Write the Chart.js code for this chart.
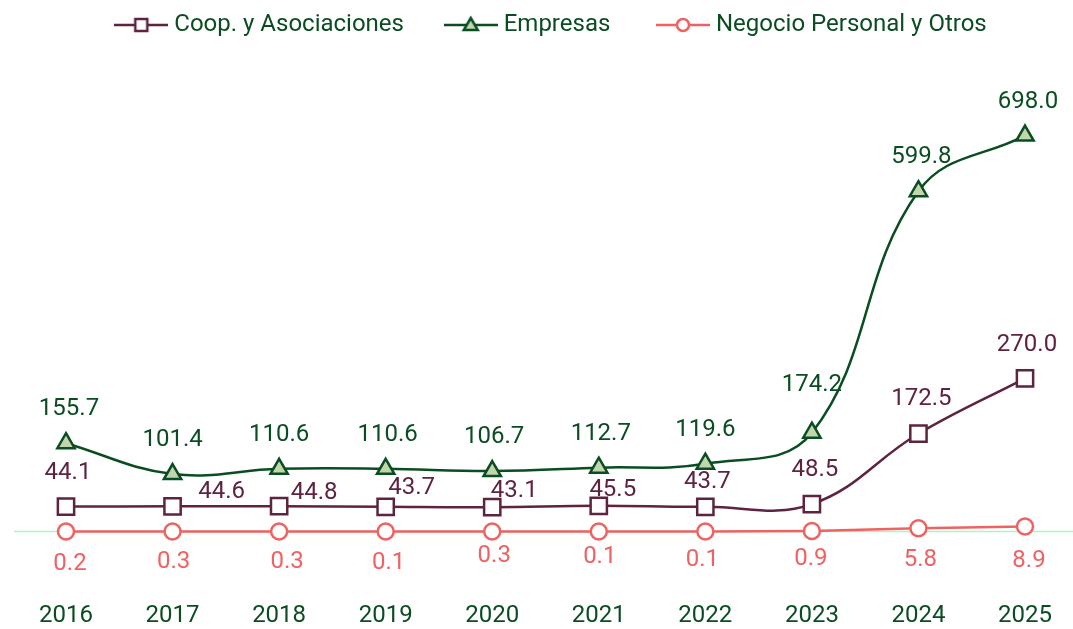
<!DOCTYPE html>
<html>
<head>
<meta charset="utf-8">
<script src="https://cdn.jsdelivr.net/npm/chart.js@4.4.1/dist/chart.umd.min.js"></script>
<style>
  html, body { margin: 0; padding: 0; background: #fff; }
  #wrap { width: 1073px; height: 629px; }
</style>
</head>
<body>
<div id="wrap"><canvas id="chart" width="1073" height="629"></canvas></div>
<script>
const years = ['2016', '2017', '2018', '2019', '2020', '2021', '2022', '2023', '2024', '2025'];
const coopValues = [44.1, 44.6, 44.8, 43.7, 43.1, 45.5, 43.7, 48.5, 172.5, 270.0];
const empresasValues = [155.7, 101.4, 110.6, 110.6, 106.7, 112.7, 119.6, 174.2, 599.8, 698.0];
const negocioValues = [0.2, 0.3, 0.3, 0.1, 0.3, 0.1, 0.1, 0.9, 5.8, 8.9];

// where each value label sits relative to its point (px)
const coopLabelOffsets = [[2, -34], [49, -14], [35, -13], [26, -19], [22, -16], [14, -16], [2, -25], [3, -34], [3, -35], [2, -33]];
const empresasLabelOffsets = [[3, -34], [0, -34], [0, -34], [2, -34], [2, -34], [2, -34], [0, -34], [0, -48], [3, -34], [3, -34]];
const negocioLabelOffsets = [[4, 33], [1, 31], [8, 31], [3, 31], [2, 25], [1, 25], [-3, 28], [-1, 28], [2, 32], [4, 34]];

const COOP = '#5e2340';
const EMP = '#0b4d22';
const EMP_FILL = '#c2d6ae';
const NEG = '#f06262';
const TEXT = '#0b4d22';
const FONT = 'Roboto';
const FS = 24;

// line + marker swatch for the legend
function legendSwatch(style, stroke, fill) {
  const c = document.createElement('canvas');
  c.width = 54; c.height = 20;
  const g = c.getContext('2d');
  g.strokeStyle = stroke; g.lineWidth = 2.5;
  g.beginPath(); g.moveTo(0, 10); g.lineTo(54, 10); g.stroke();
  g.fillStyle = fill;
  g.beginPath();
  if (style === 'rect') g.rect(21, 4, 12, 12);
  else if (style === 'triangle') { g.moveTo(27, 3); g.lineTo(34, 15); g.lineTo(20, 15); g.closePath(); }
  else g.arc(27, 10, 6, 0, Math.PI * 2);
  g.fill(); g.stroke();
  return c;
}

const valueLabels = {
  id: 'valueLabels',
  afterDatasetsDraw(chart) {
    const ctx = chart.ctx;
    ctx.save();
    ctx.font = FS + 'px ' + FONT;
    ctx.textAlign = 'center';
    ctx.textBaseline = 'middle';
    chart.data.datasets.forEach((ds, i) => {
      const meta = chart.getDatasetMeta(i);
      meta.data.forEach((pt, j) => {
        const off = ds.labelOffsets[j];
        ctx.fillStyle = ds.labelColor;
        ctx.fillText(ds.data[j].toFixed(1), pt.x + off[0], pt.y + off[1]);
      });
    });
    ctx.restore();
  }
};

const zeroLine = {
  id: 'zeroLine',
  beforeDatasetsDraw(chart) {
    const y = chart.scales.y.getPixelForValue(0);
    const ctx = chart.ctx;
    ctx.save();
    ctx.strokeStyle = '#a2f9c2';
    ctx.lineWidth = 1.5;
    ctx.beginPath();
    ctx.moveTo(14, y);
    ctx.lineTo(chart.width, y);
    ctx.stroke();
    ctx.restore();
  }
};

new Chart(document.getElementById('chart'), {
  type: 'line',
  data: {
    labels: years,
    datasets: [
      {
        label: 'Coop. y Asociaciones',
        data: coopValues,
        borderColor: COOP,
        backgroundColor: '#ffffff',
        pointStyle: 'rect',
        pointRadius: 11.5,
        pointBorderWidth: 2.5,
        borderWidth: 2.5,
        tension: 0.4,
        labelColor: COOP,
        labelOffsets: coopLabelOffsets,
        swatch: legendSwatch('rect', COOP, '#ffffff')
      },
      {
        label: 'Empresas',
        data: empresasValues,
        borderColor: EMP,
        backgroundColor: EMP_FILL,
        pointStyle: 'triangle',
        pointRadius: 10,
        pointBorderWidth: 2.5,
        borderWidth: 2.5,
        tension: 0.4,
        labelColor: EMP,
        labelOffsets: empresasLabelOffsets,
        swatch: legendSwatch('triangle', EMP, EMP_FILL)
      },
      {
        label: 'Negocio Personal y Otros',
        data: negocioValues,
        borderColor: NEG,
        backgroundColor: '#ffffff',
        pointStyle: 'circle',
        pointRadius: 8,
        pointBorderWidth: 2.5,
        borderWidth: 2.5,
        tension: 0,
        labelColor: NEG,
        labelOffsets: negocioLabelOffsets,
        swatch: legendSwatch('circle', NEG, '#ffffff')
      }
    ]
  },
  options: {
    responsive: false,
    animation: false,
    layout: { padding: { left: 66, right: 32, top: 3, bottom: -15 } },
    scales: {
      x: {
        offset: false,
        grid: { display: false, drawTicks: false },
        border: { display: false },
        ticks: { color: TEXT, font: { family: FONT, size: FS }, padding: 14, maxRotation: 0 }
      },
      y: {
        position: 'right',
        min: -98,
        max: 854,
        grid: { display: false, drawTicks: false },
        border: { display: false },
        ticks: { display: false },
        afterFit: function(scale) { scale.width = 16; }
      }
    },
    plugins: {
      tooltip: { enabled: false },
      legend: {
        position: 'top',
        labels: {
          usePointStyle: true,
          pointStyleWidth: 42,
          padding: 10,
          color: TEXT,
          font: { family: FONT, size: FS },
          generateLabels: function(chart) {
            const gaps = ['      ', '       ', ''];
            return chart.data.datasets.map(function(ds, i) {
              return {
                text: ds.label + gaps[i],
                pointStyle: ds.swatch,
                fillStyle: ds.backgroundColor,
                strokeStyle: ds.borderColor,
                fontColor: TEXT,
                lineWidth: 0,
                hidden: false,
                datasetIndex: i
              };
            });
          }
        }
      }
    }
  },
  plugins: [zeroLine, valueLabels]
});
</script>
</body>
</html>
